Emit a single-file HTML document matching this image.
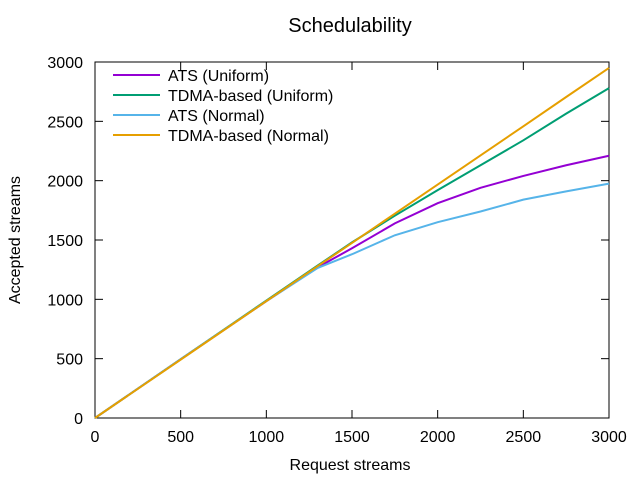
<!DOCTYPE html>
<html><head><meta charset="utf-8"><style>
body{margin:0;background:#fff}
svg text{font-family:"Liberation Sans",sans-serif;font-size:16px;fill:#000}
</style></head><body>
<svg width="640" height="480" xmlns="http://www.w3.org/2000/svg">
<rect width="640" height="480" fill="#fff"/>
<text x="350" y="32" text-anchor="middle" font-size="20" style="font-size:20px">Schedulability</text>
<g id="axes"></g>
<g id="series"></g>
<g id="legend"></g>
<text x="350" y="470" text-anchor="middle">Request streams</text>
<text transform="translate(20,240) rotate(-90)" text-anchor="middle">Accepted streams</text>
</svg>
<script>
const xs = [0,500,1000,1300,1500,1750,2000,2250,2500,2750,3000];
const atsUniform = [0,495,985,1270,1430,1640,1810,1940,2040,2130,2210];
const tdmaUniform = [0,495,990,1285,1480,1705,1920,2130,2340,2565,2780];
const atsNormal = [0,495,985,1265,1380,1540,1650,1740,1840,1910,1975];
const tdmaNormal = [0,492,985,1280,1475,1722,1967,2213,2458,2705,2950];
const xTicks = [0,500,1000,1500,2000,2500,3000];
const yTicks = [0,500,1000,1500,2000,2500,3000];
const names = ["ATS (Uniform)","TDMA-based (Uniform)","ATS (Normal)","TDMA-based (Normal)"];
const colors = ["#9400d3","#009e73","#56b4e9","#e69f00"];
const seriesData = [atsUniform,tdmaUniform,atsNormal,tdmaNormal];
const L=95,R=609,T=62,B=418;
const sx=v=>L+(v/3000)*(R-L), sy=v=>B-(v/3000)*(B-T);
const NS="http://www.w3.org/2000/svg";
function mk(tag,attrs,parent,txt){const e=document.createElementNS(NS,tag);for(const k in attrs)e.setAttribute(k,attrs[k]);if(txt!==undefined)e.textContent=txt;parent.appendChild(e);return e;}
const ax=document.getElementById('axes');
xTicks.forEach(t=>{
  const g=mk('g',{},ax);
  
  
  mk('line',{x1:sx(t),x2:sx(t),y1:B,y2:B-8,stroke:'#000'},g);
  mk('line',{x1:sx(t),x2:sx(t),y1:T,y2:T+8,stroke:'#000'},g);
  mk('text',{x:sx(t),y:B+24,'text-anchor':'middle'},g,t);
});
yTicks.forEach(t=>{
  const g=mk('g',{},ax);
  
  
  mk('line',{x1:L,x2:L+8,y1:sy(t),y2:sy(t),stroke:'#000'},g);
  mk('line',{x1:R,x2:R-8,y1:sy(t),y2:sy(t),stroke:'#000'},g);
  mk('text',{x:L-12,y:sy(t)+6,'text-anchor':'end'},g,t);
});
const frame=mk('rect',{x:L,y:T,width:R-L,height:B-T,fill:'none',stroke:'#000'},ax);


const sg=document.getElementById('series');
seriesData.forEach((d,i)=>{
  const p=mk('polyline',{points:xs.map((x,j)=>sx(x)+','+sy(d[j])).join(' '),fill:'none',stroke:colors[i],'stroke-width':2},sg);
  
  
});
const lg=document.getElementById('legend');
names.forEach((n,i)=>{
  const y=75+i*20;
  const g=mk('g',{},lg);
  
  
  mk('line',{x1:113,x2:160,y1:y,y2:y,stroke:colors[i],'stroke-width':2},g);
  mk('text',{x:168,y:y+6},g,n);
});
</script>
</body></html>
